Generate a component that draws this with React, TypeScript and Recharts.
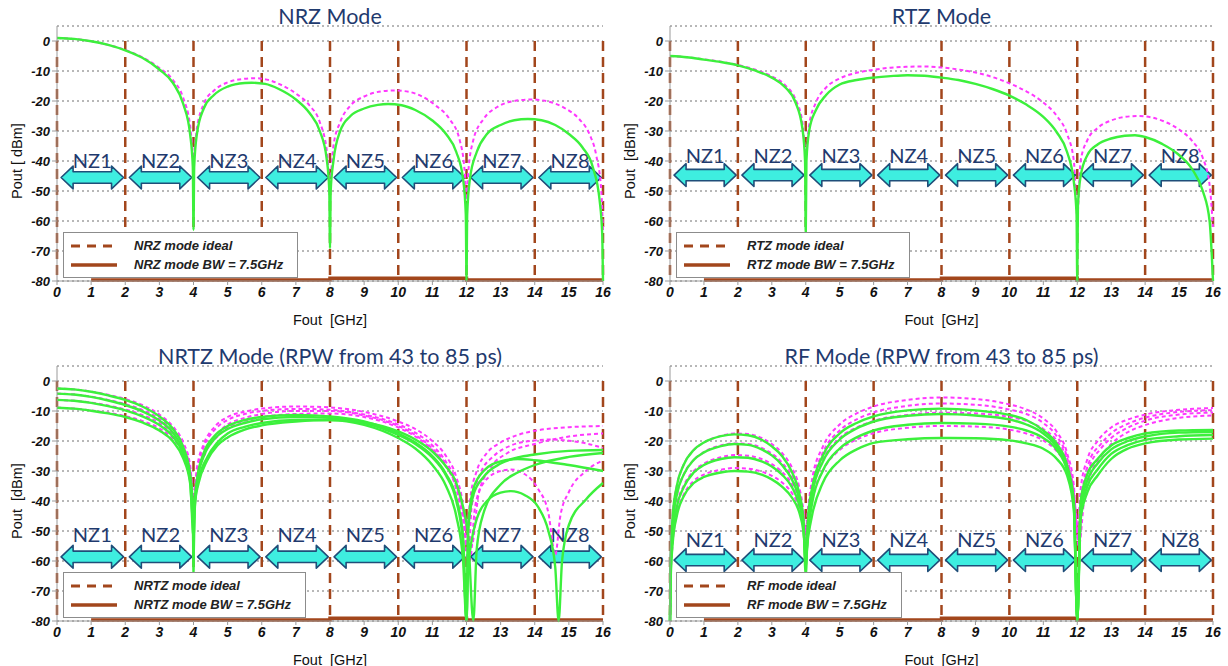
import {
  CartesianGrid,
  Legend,
  Line,
  LineChart,
  ReferenceArea,
  ReferenceLine,
  XAxis,
  YAxis,
} from 'recharts';

type Pt = [number, number];

const xTicks = [0, 1, 2, 3, 4, 5, 6, 7, 8, 9, 10, 11, 12, 13, 14, 15, 16];
const yTicks = [-80, -70, -60, -50, -40, -30, -20, -10, 0];
const zoneEdges = [0, 2, 4, 6, 8, 10, 12, 14, 16];
const zoneLabels = ['NZ1', 'NZ2', 'NZ3', 'NZ4', 'NZ5', 'NZ6', 'NZ7', 'NZ8'];

// brown solid trace sitting on the floor of every panel
const floorLine: Pt[] = [[1, -79.7], [8, -79.7], [8, -79.1], [12, -79.1], [12, -79.7], [16, -79.7]];

// NRZ mode
const nrzIdeal: Pt[] = [[0, 1], [0.5, 0.7], [1, -0.1], [1.5, -1.3], [2, -3], [2.5, -5.4], [3, -9], [3.4, -13], [3.7, -19], [3.9, -28], [4, -38], [4.1, -29], [4.3, -21], [4.6, -16.5], [5, -13.8], [5.5, -12.6], [5.8, -12.4], [6.2, -13], [6.6, -14.8], [7, -17.5], [7.4, -21.5], [7.7, -27], [7.9, -36], [8, -46], [8.1, -35], [8.3, -27], [8.6, -21.5], [9, -18.5], [9.5, -16.8], [9.9, -16.5], [10.3, -16.9], [10.7, -18.5], [11.1, -21.5], [11.5, -26], [11.8, -33], [11.95, -44], [12, -53], [12.05, -44], [12.2, -33], [12.5, -26], [12.9, -22], [13.4, -20], [13.9, -19.5], [14.4, -20.2], [14.9, -22.5], [15.3, -26], [15.6, -31], [15.8, -38], [15.95, -50], [16, -63]];
const nrzBw: Pt[] = [[0, 1], [0.5, 0.7], [1, -0.1], [1.5, -1.3], [2, -3.1], [2.5, -5.6], [3, -9.5], [3.4, -14], [3.7, -21], [3.9, -31], [3.98, -42], [4, -63], [4.02, -42], [4.1, -31], [4.3, -22.5], [4.6, -18], [5, -15.2], [5.5, -14], [5.7, -13.9], [6.1, -14.3], [6.5, -16], [7, -19.5], [7.4, -24], [7.7, -30], [7.9, -39], [7.98, -50], [8, -69], [8.02, -50], [8.1, -40], [8.3, -30], [8.6, -25], [9, -22.5], [9.4, -21.3], [9.7, -21], [10.1, -21.4], [10.5, -23], [11, -26.5], [11.4, -31], [11.7, -37], [11.9, -46], [11.98, -58], [12, -80], [12.02, -58], [12.1, -46], [12.3, -37], [12.6, -31], [13, -28], [13.4, -26.4], [13.8, -26], [14.2, -26.4], [14.6, -28], [15, -31], [15.4, -35.5], [15.7, -42], [15.9, -53], [15.98, -65], [16, -80]];

// RTZ mode
const rtzIdeal: Pt[] = [[0, -5], [0.5, -5.4], [1, -6.1], [1.5, -6.9], [2, -8], [2.5, -9.5], [3, -11.8], [3.4, -14.8], [3.7, -19.5], [3.9, -27], [4, -37], [4.1, -28], [4.3, -20.5], [4.6, -15.5], [5, -12.5], [5.5, -10.6], [6, -9.6], [6.5, -8.9], [7, -8.6], [7.5, -8.5], [8, -8.8], [8.5, -9.5], [9, -10.5], [9.5, -12], [10, -14.1], [10.5, -16.8], [11, -20.5], [11.4, -25], [11.7, -31], [11.9, -40], [12, -58], [12.1, -40], [12.3, -33], [12.6, -29], [13, -26.5], [13.4, -25.3], [13.8, -25], [14.2, -25.5], [14.6, -27], [15, -29.5], [15.4, -33.5], [15.7, -39], [15.9, -48], [16, -62]];
const rtzBw: Pt[] = [[0, -5], [0.5, -5.4], [1, -6.2], [1.5, -7], [2, -8.1], [2.5, -9.8], [3, -12.2], [3.4, -15.5], [3.7, -20.5], [3.9, -29], [3.98, -40], [4, -65], [4.02, -40], [4.1, -30], [4.3, -23], [4.6, -18], [5, -14.5], [5.5, -13], [6, -12.2], [6.5, -11.7], [7, -11.4], [7.5, -11.6], [8, -12.2], [8.5, -13], [9, -14.3], [9.5, -16], [10, -18.2], [10.5, -21.2], [11, -25.3], [11.4, -30.5], [11.7, -37], [11.9, -47], [11.98, -58], [12, -80], [12.02, -55], [12.1, -45], [12.3, -38], [12.6, -34.5], [13, -32.5], [13.4, -31.6], [13.7, -31.4], [14, -32], [14.5, -34.3], [15, -38], [15.4, -43], [15.7, -50], [15.9, -60], [16, -80]];

// NRTZ mode, RPW 43..85 ps
const nrtzIdeal1: Pt[] = [[0, -2.5], [0.5, -2.8], [1, -3.5], [1.5, -4.6], [2, -6], [2.5, -8], [3, -11.2], [3.4, -15.2], [3.7, -20.5], [3.9, -28], [4, -38], [4.1, -29], [4.3, -21], [4.6, -15.5], [5, -12], [5.5, -10.2], [6, -9.2], [7, -8.5], [8, -8.8], [9, -10.3], [10, -13.5], [10.5, -16], [11, -20], [11.4, -25], [11.7, -32], [11.9, -42], [12, -55], [12.1, -40], [12.3, -30], [12.6, -24], [13, -20.5], [13.5, -18], [14, -16.6], [15, -15.4], [16, -15]];
const nrtzIdeal2: Pt[] = [[0, -4.2], [0.5, -4.5], [1, -5.2], [1.5, -6.3], [2, -7.7], [2.5, -9.6], [3, -12.6], [3.4, -16.5], [3.7, -21.8], [3.9, -29.5], [4, -40], [4.1, -30.5], [4.3, -22], [4.6, -16.5], [5, -13], [5.5, -11], [6, -10], [7, -9.3], [8, -9.6], [9, -11.2], [10, -14.5], [10.5, -17.2], [11, -21.5], [11.4, -27], [11.7, -34], [11.9, -45], [12.05, -60], [12.15, -42], [12.4, -31], [12.8, -25], [13.3, -21.5], [14, -19.8], [14.5, -19.5], [15, -19.9], [15.5, -20.8], [16, -22.3]];
const nrtzIdeal3: Pt[] = [[0, -6.3], [0.5, -6.6], [1, -7.2], [1.5, -8.2], [2, -9.5], [2.5, -11.3], [3, -14], [3.4, -17.8], [3.7, -23], [3.9, -30.5], [4, -42], [4.12, -31], [4.35, -23], [4.7, -17.5], [5, -14.5], [5.5, -12.3], [6, -11], [7, -10], [8, -10], [9, -11.5], [10, -15], [10.5, -18], [11, -22.5], [11.4, -28], [11.7, -36], [11.9, -46], [12.1, -60], [12.25, -42], [12.5, -34], [13, -30], [13.3, -29.5], [13.7, -31], [14.1, -36], [14.4, -44], [14.6, -58], [14.75, -45], [15, -37], [15.5, -30], [16, -26.5]];
const nrtzIdeal4: Pt[] = [[0, -8.9], [0.5, -9.2], [1, -9.8], [1.5, -10.6], [2, -11.7], [2.5, -13.3], [3, -15.8], [3.4, -19.3], [3.7, -24.3], [3.9, -31.5], [4, -44], [4.12, -32], [4.35, -24], [4.7, -18.5], [5, -15.5], [5.5, -13.3], [6, -12], [7, -11], [8, -10.8], [9, -12], [10, -15.5], [10.5, -18.5], [11, -23], [11.4, -28.5], [11.7, -35], [11.9, -43], [12.15, -55], [12.35, -38], [12.7, -29], [13.2, -24], [14, -21], [15, -18.5], [16, -17.5]];
const nrtzBw1: Pt[] = [[0, -2.5], [0.5, -2.8], [1, -3.6], [1.5, -4.8], [2, -6.3], [2.5, -8.5], [3, -11.8], [3.4, -16], [3.7, -22], [3.9, -31], [3.98, -42], [4, -65], [4.02, -44], [4.1, -33], [4.3, -24], [4.6, -18.5], [5, -15], [5.5, -13], [6, -12], [7, -11.3], [8, -11.8], [9, -13.5], [10, -17.5], [10.5, -20.5], [11, -25], [11.4, -31], [11.7, -39], [11.9, -52], [12, -80], [12.05, -50], [12.2, -38], [12.5, -32], [13, -27.5], [13.5, -25.5], [14, -24.5], [15, -23.3], [16, -23]];
const nrtzBw2: Pt[] = [[0, -4.2], [0.5, -4.5], [1, -5.3], [1.5, -6.5], [2, -8], [2.5, -10.1], [3, -13.2], [3.4, -17.3], [3.7, -23.3], [3.9, -32], [3.98, -43], [4, -60], [4.03, -42], [4.1, -34], [4.3, -25], [4.6, -19.5], [5, -16], [5.5, -14], [6, -12.8], [7, -12], [8, -12.3], [9, -14], [10, -18], [10.5, -21], [11, -25.5], [11.4, -31.5], [11.7, -40], [11.9, -54], [12, -80], [12.05, -48], [12.2, -36], [12.5, -30], [13, -26.8], [13.5, -26], [14, -26.4], [15, -28], [16, -30]];
const nrtzBw3: Pt[] = [[0, -6.3], [0.5, -6.6], [1, -7.3], [1.5, -8.4], [2, -9.8], [2.5, -11.8], [3, -14.7], [3.4, -18.6], [3.7, -24.5], [3.9, -33], [4, -52], [4.05, -40], [4.15, -33], [4.4, -25.5], [4.7, -20.5], [5, -17.5], [5.5, -15.3], [6, -14], [7, -13], [8, -13], [9, -14.6], [10, -19], [10.5, -22.5], [11, -28], [11.4, -35], [11.7, -45], [11.9, -60], [12, -80], [12.05, -62], [12.3, -46], [12.6, -40], [13, -37.2], [13.3, -36.7], [13.7, -38], [14.1, -42], [14.4, -50], [14.6, -62], [14.7, -80], [14.8, -60], [15, -48], [15.5, -39.5], [16, -34]];
const nrtzBw4: Pt[] = [[0, -8.9], [0.5, -9.2], [1, -9.9], [1.5, -10.8], [2, -12], [2.5, -13.8], [3, -16.5], [3.4, -20.2], [3.7, -25.8], [3.9, -34], [4, -48], [4.05, -40], [4.15, -34], [4.4, -26.5], [4.7, -21.5], [5, -18.8], [5.5, -16.2], [6, -14.8], [7, -13.5], [8, -13], [9, -13.8], [10, -16.8], [10.5, -19.5], [11, -23.5], [11.4, -28.5], [11.7, -34], [11.9, -42], [12.05, -52], [12.2, -80], [12.3, -56], [12.5, -44], [13, -34.5], [13.5, -30.5], [14, -28], [15, -25.3], [16, -24]];

// RF mode, RPW 43..85 ps
const rfIdeal1: Pt[] = [[0, -80], [0.02, -60], [0.08, -45], [0.2, -35], [0.4, -28], [0.7, -23], [1, -20.5], [1.5, -18.3], [1.9, -17.5], [2.3, -17.7], [2.7, -19], [3, -21], [3.3, -24], [3.6, -29], [3.8, -35], [3.93, -43], [4, -50], [4.07, -42], [4.2, -32], [4.5, -22], [5, -14.5], [5.5, -10.8], [6, -8.5], [7, -6.3], [8, -5.5], [9, -6], [10, -7.8], [10.5, -9.5], [11, -12.5], [11.4, -17], [11.7, -24], [11.9, -35], [12, -50], [12.1, -36], [12.3, -26], [12.6, -20], [13, -15.5], [13.5, -12.8], [14, -11.2], [15, -9.6], [16, -9]];
const rfIdeal2: Pt[] = [[0, -80], [0.02, -62], [0.08, -47.5], [0.2, -38], [0.4, -31.3], [0.7, -26.3], [1, -23.7], [1.5, -21.5], [1.9, -20.8], [2.3, -21], [2.7, -22.3], [3, -24.2], [3.3, -27.2], [3.6, -32], [3.8, -37.5], [3.93, -45], [4, -52], [4.07, -44], [4.2, -34], [4.5, -24], [5, -16.5], [5.5, -12.8], [6, -10.5], [7, -8.3], [8, -7.5], [9, -7.9], [10, -9.5], [10.5, -11], [11, -14], [11.4, -18.5], [11.7, -25.5], [11.9, -37], [12.05, -52], [12.15, -37], [12.35, -27], [12.7, -21], [13, -17.4], [13.5, -14.2], [14, -12.2], [15, -10.3], [16, -9.7]];
const rfIdeal3: Pt[] = [[0, -80], [0.02, -64], [0.08, -51], [0.2, -41.5], [0.4, -35], [0.7, -30], [1, -27.5], [1.5, -25.4], [1.9, -24.7], [2.3, -24.9], [2.7, -26], [3, -27.7], [3.3, -30.3], [3.6, -34.5], [3.8, -39.5], [3.93, -46], [4, -54], [4.07, -46], [4.2, -36], [4.5, -26.5], [5, -19], [5.5, -15.5], [6, -13.3], [7, -11.3], [8, -10.6], [9, -10.8], [10, -12], [10.5, -13.3], [11, -16], [11.4, -20], [11.7, -26.5], [11.9, -38], [12.05, -55], [12.15, -39], [12.35, -29], [12.7, -22.5], [13, -19], [13.5, -15.5], [14, -13.2], [15, -11.2], [16, -10.5]];
const rfIdeal4: Pt[] = [[0, -80], [0.02, -66], [0.08, -54], [0.2, -44.5], [0.4, -38], [0.7, -33.3], [1, -31.2], [1.5, -29.6], [1.9, -29], [2.3, -29.2], [2.7, -30.2], [3, -31.6], [3.3, -33.8], [3.6, -37.5], [3.8, -42], [3.93, -48], [4, -56], [4.07, -48], [4.2, -39], [4.5, -30], [5, -23], [5.5, -19.5], [6, -17.4], [7, -15.6], [8, -15], [9, -15.2], [10, -16.2], [10.5, -17.5], [11, -19.8], [11.4, -23.5], [11.7, -29], [11.9, -39], [12.05, -55], [12.2, -40], [12.4, -31], [12.7, -25], [13, -21], [13.5, -17], [14, -14.7], [15, -12.3], [16, -11.5]];
const rfBw1: Pt[] = [[0, -80], [0.02, -60], [0.08, -45], [0.2, -35], [0.4, -28], [0.7, -23], [1, -20.5], [1.5, -18.4], [1.9, -17.8], [2.3, -18.1], [2.7, -19.6], [3, -21.8], [3.3, -25], [3.6, -30.5], [3.8, -37], [3.93, -46], [4, -65], [4.07, -45], [4.2, -35], [4.5, -25], [5, -17.5], [5.5, -14], [6, -11.8], [7, -9.8], [8, -9.2], [9, -9.8], [10, -11.3], [10.5, -13], [11, -16.5], [11.4, -21], [11.7, -28], [11.9, -40], [12, -80], [12.1, -40], [12.3, -31], [12.6, -26], [13, -21.5], [13.5, -19], [14, -17.5], [15, -16.5], [16, -16.3]];
const rfBw2: Pt[] = [[0, -80], [0.02, -62], [0.08, -47.5], [0.2, -38], [0.4, -31.3], [0.7, -26.3], [1, -23.8], [1.5, -21.7], [1.9, -21], [2.3, -21.3], [2.7, -22.8], [3, -24.8], [3.3, -28], [3.6, -33], [3.8, -39], [3.93, -47], [4, -62], [4.07, -47], [4.2, -37], [4.5, -27], [5, -19.5], [5.5, -15.8], [6, -13.5], [7, -11.6], [8, -11], [9, -11.5], [10, -12.8], [10.5, -14.5], [11, -17.5], [11.4, -22], [11.7, -29], [11.9, -41], [12, -80], [12.1, -42], [12.3, -33], [12.6, -27.5], [13, -22.8], [13.5, -20], [14, -18.5], [15, -17.2], [16, -17]];
const rfBw3: Pt[] = [[0, -80], [0.02, -64], [0.08, -51], [0.2, -42], [0.4, -35.5], [0.7, -30.5], [1, -28], [1.5, -26], [1.9, -25.4], [2.3, -25.6], [2.7, -26.8], [3, -28.5], [3.3, -31.2], [3.6, -35.5], [3.8, -41], [3.93, -48], [4, -60], [4.07, -50], [4.2, -40], [4.5, -30], [5, -22.5], [5.5, -18.8], [6, -16.5], [7, -14.6], [8, -14], [9, -14.2], [10, -15.2], [10.5, -16.5], [11, -19], [11.4, -23], [11.7, -30], [11.9, -42], [12, -80], [12.1, -44], [12.3, -35], [12.6, -29.5], [13, -24.3], [13.5, -21.3], [14, -19.6], [15, -18.4], [16, -18]];
const rfBw4: Pt[] = [[0, -80], [0.02, -66], [0.08, -54], [0.2, -45], [0.4, -38.5], [0.7, -34], [1, -32], [1.5, -30.5], [1.9, -30], [2.3, -30.2], [2.7, -31.2], [3, -32.8], [3.3, -35.2], [3.6, -39], [3.8, -43.5], [3.93, -50], [4, -58], [4.07, -52], [4.2, -44], [4.5, -34], [5, -26.5], [5.5, -22.8], [6, -20.6], [7, -19.4], [8, -19], [9, -19.1], [10, -19.8], [10.5, -20.8], [11, -22.6], [11.4, -26], [11.7, -31.5], [11.9, -43], [12, -80], [12.1, -46], [12.3, -37], [12.6, -31.5], [13, -26], [13.5, -22.5], [14, -20.8], [15, -19.5], [16, -19.2]];

const BROWN = '#a2461c';
const MAGENTA = '#ff38ff';
const GREEN = '#3cf03c';
const ARROW_FILL = '#3eeee0';
const ARROW_EDGE = '#1f4e79';
const NAVY = '#1f3a6e';
const ARIAL = '"Liberation Sans", Arial, sans-serif';

const toData = (pts: Pt[]) => pts.map(([x, y]) => ({ x, y }));

type PanelProps = {
  left: number;
  top: number;
  right: number;
  title: string;
  mode: string;
  yLabel: string;
  ideal: Pt[][];
  bw: Pt[][];
  arrowY: number;
  labelGap: number;
};

function ZoneArrow(props: any) {
  const { x, y, width, height, text, gap } = props;
  const mid = y + height / 2;
  const head = 12;
  const half = height * 0.25;
  const pts = [
    [x, mid],
    [x + head, y],
    [x + head, mid - half],
    [x + width - head, mid - half],
    [x + width - head, y],
    [x + width, mid],
    [x + width - head, y + height],
    [x + width - head, mid + half],
    [x + head, mid + half],
    [x + head, y + height],
  ];
  return (
    <g>
      <polygon
        points={pts.map((p) => p.join(',')).join(' ')}
        fill={ARROW_FILL}
        stroke={ARROW_EDGE}
        strokeWidth={1.6}
        strokeLinejoin="round"
      />
      <text
        x={x + width / 2}
        y={mid - gap}
        textAnchor="middle"
        dominantBaseline="central"
        fontFamily="Lato, 'Open Sans', sans-serif"
        fontSize={20}
        fill={NAVY}
      >
        {text}
      </text>
    </g>
  );
}

function LegendBox({ mode }: { mode: string }) {
  const row = { display: 'flex', alignItems: 'center', height: 19 };
  return (
    <div
      style={{
        display: 'inline-block',
        background: '#fff',
        border: '1.5px solid #8c8c8c',
        padding: '3px 14px 3px 7px',
        fontFamily: ARIAL,
        fontWeight: 'bold',
        fontStyle: 'italic',
        fontSize: 13,
        color: '#222',
        whiteSpace: 'nowrap',
      }}
    >
      <div style={row}>
        <svg width={46} height={6}>
          <line x1={0} y1={3} x2={46} y2={3} stroke={BROWN} strokeWidth={3} strokeDasharray="9 7" />
        </svg>
        <span style={{ marginLeft: 17 }}>{mode} mode ideal</span>
      </div>
      <div style={row}>
        <svg width={46} height={6}>
          <line x1={0} y1={3} x2={46} y2={3} stroke={BROWN} strokeWidth={3.5} />
        </svg>
        <span style={{ marginLeft: 17 }}>{mode} mode BW = 7.5GHz</span>
      </div>
    </div>
  );
}

function ModePanel({ left, top, right, title, mode, yLabel, ideal, bw, arrowY, labelGap }: PanelProps) {
  const width = 620;
  const xTickStyle = { fontSize: 14, fontWeight: 'bold', fontStyle: 'italic', fill: '#111', fontFamily: ARIAL };
  const yTickStyle = { ...xTickStyle, fontSize: 13 };
  return (
    <div style={{ position: 'absolute', left, top, width, height: 330 }}>
      <div
        style={{
          position: 'absolute',
          left: 57,
          width: width - 57 - right,
          top: 3,
          textAlign: 'center',
          fontFamily: "Lato, 'Open Sans', sans-serif",
          fontSize: 21.5,
          lineHeight: '27px',
          color: NAVY,
          zIndex: 2,
        }}
      >
        {title}
      </div>
      <LineChart width={width} height={330} margin={{ top: 26, right, bottom: 4, left: 0 }}>
        <CartesianGrid vertical={false} stroke="#707070" strokeDasharray="2 3" />
        <XAxis
          type="number"
          dataKey="x"
          domain={[0, 16]}
          ticks={xTicks}
          interval={0}
          height={45}
          tick={xTickStyle}
          tickSize={4}
          axisLine={{ stroke: '#9a9a9a' }}
          tickLine={{ stroke: '#9a9a9a' }}
          label={{ value: 'Fout\u00a0\u00a0[GHz]', position: 'insideBottom', offset: 1, fontSize: 14.5, fill: '#111', fontFamily: ARIAL }}
        />
        <YAxis
          type="number"
          domain={[-80, 5]}
          ticks={yTicks}
          interval={0}
          width={57}
          tick={yTickStyle}
          tickSize={5}
          axisLine={{ stroke: '#9a9a9a' }}
          tickLine={{ stroke: '#9a9a9a' }}
          label={() => (
            <text
              transform="translate(17, 161) rotate(-90)"
              textAnchor="middle"
              dominantBaseline="central"
              fontFamily={ARIAL}
              fontSize={14.5}
              fill="#111"
            >
              {yLabel}
            </text>
          )}
        />
        {zoneEdges.map((x) => (
          <ReferenceLine
            key={`edge-${x}`}
            segment={[{ x, y: 0 }, { x, y: -80 }]}
            stroke={BROWN}
            strokeWidth={2.5}
            strokeDasharray="10 6"
          />
        ))}
        <Line
          data={toData(floorLine)}
          dataKey="y"
          type="linear"
          stroke={BROWN}
          strokeWidth={3.5}
          dot={false}
          activeDot={false}
          isAnimationActive={false}
        />
        {ideal.map((pts, i) => (
          <Line
            key={`ideal-${i}`}
            data={toData(pts)}
            dataKey="y"
            type="monotone"
            stroke={MAGENTA}
            strokeWidth={2}
            strokeDasharray="4 3"
            dot={false}
            activeDot={false}
            isAnimationActive={false}
          />
        ))}
        {bw.map((pts, i) => (
          <Line
            key={`bw-${i}`}
            data={toData(pts)}
            dataKey="y"
            type="monotone"
            stroke={GREEN}
            strokeWidth={2.4}
            dot={false}
            activeDot={false}
            isAnimationActive={false}
          />
        ))}
        {zoneLabels.map((nz, i) => (
          <ReferenceArea
            key={nz}
            x1={zoneEdges[i] + 0.12}
            x2={zoneEdges[i] + 1.95}
            y1={arrowY - 3.8}
            y2={arrowY + 3.8}
            shape={(p: any) => <ZoneArrow {...p} text={nz} gap={labelGap} />}
          />
        ))}
        <Legend
          layout="horizontal"
          verticalAlign="middle"
          align="center"
          wrapperStyle={{ left: 63, top: 232, width: 'auto', height: 'auto' }}
          content={() => <LegendBox mode={mode} />}
        />
      </LineChart>
    </div>
  );
}

export default function App() {
  return (
    <div style={{ position: 'absolute', left: 0, top: 0, width: 1228, height: 666, background: '#fff' }}>
      <ModePanel left={0} top={0} right={17} title="NRZ Mode" mode="NRZ" yLabel={'Pout [\u00a0dBm]'}
        ideal={[nrzIdeal]} bw={[nrzBw]} arrowY={-45.5} labelGap={18} />
      <ModePanel left={613} top={0} right={20} title="RTZ Mode" mode="RTZ" yLabel={'Pout\u00a0\u00a0[dBm]'}
        ideal={[rtzIdeal]} bw={[rtzBw]} arrowY={-44.7} labelGap={20} />
      <ModePanel left={0} top={340} right={17} title="NRTZ Mode (RPW from 43 to 85 ps)" mode="NRTZ" yLabel={'Pout\u00a0\u00a0[dBm]'}
        ideal={[nrtzIdeal1, nrtzIdeal2, nrtzIdeal3, nrtzIdeal4]}
        bw={[nrtzBw1, nrtzBw2, nrtzBw3, nrtzBw4]} arrowY={-58.6} labelGap={23} />
      <ModePanel left={613} top={340} right={20} title="RF Mode (RPW from 43 to 85 ps)" mode="RF" yLabel={'Pout\u00a0\u00a0[dBm]'}
        ideal={[rfIdeal1, rfIdeal2, rfIdeal3, rfIdeal4]}
        bw={[rfBw1, rfBw2, rfBw3, rfBw4]} arrowY={-59.7} labelGap={21} />
    </div>
  );
}
